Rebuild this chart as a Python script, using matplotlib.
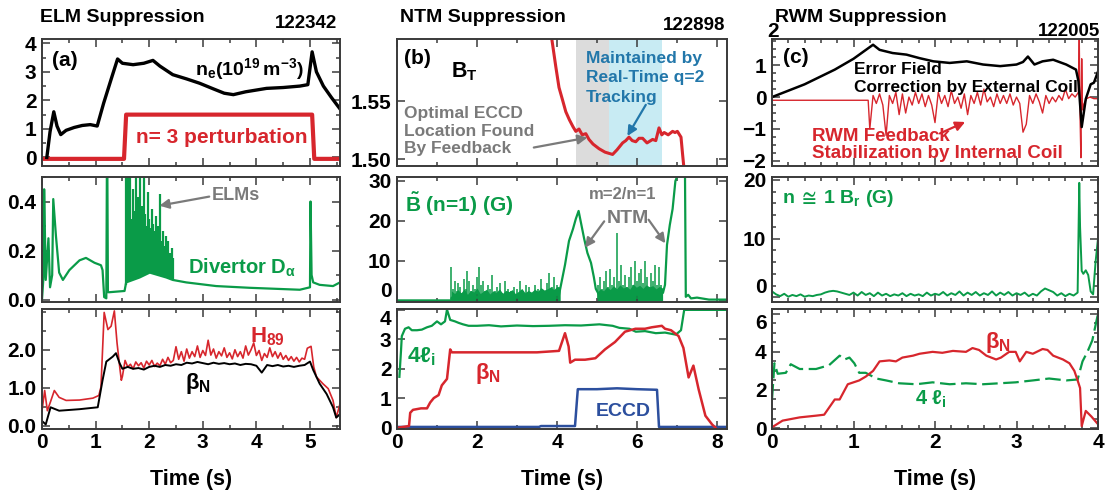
import numpy as np
import matplotlib
matplotlib.use("Agg")
import matplotlib.pyplot as plt
from matplotlib import font_manager as fm
from matplotlib.ticker import MultipleLocator, FixedLocator, FormatStrFormatter
from matplotlib.transforms import blended_transform_factory

# ---------------------------------------------------------------------------
# Data (time in s)
# ---------------------------------------------------------------------------

# (a) ELM suppression, shot 122342
ne_t = [0.09, 0.15, 0.22, 0.28, 0.35, 0.45, 0.6, 0.75, 0.9, 1.03, 1.15, 1.3, 1.41, 1.5, 1.7,
        1.9, 2.07, 2.2, 2.44, 2.7, 2.94, 3.2, 3.4, 3.57, 3.8, 4.19, 4.5, 4.81, 4.96, 5.04,
        5.12, 5.25, 5.4, 5.56]
ne_v = [0.0, 0.9, 1.6, 1.1, 0.8, 0.95, 1.05, 1.12, 1.15, 1.1, 1.9, 2.8, 3.45, 3.3, 3.25,
        3.3, 3.4, 3.2, 2.9, 2.75, 2.6, 2.4, 2.25, 2.2, 2.3, 2.42, 2.45, 2.5, 2.55, 3.7,
        3.0, 2.5, 2.1, 1.7]
n3_t = [0.0, 1.53, 1.57, 5.04, 5.08, 5.56]
n3_v = [-0.05, -0.05, 1.5, 1.5, -0.05, -0.05]

da_t = [0.0, 0.03, 0.04, 0.07, 0.12, 0.15, 0.19, 0.21, 0.26, 0.32, 0.39, 0.51, 0.7, 0.82,
        0.98, 1.10, 1.13, 1.16, 1.20, 1.21, 1.22, 1.23, 1.26, 1.54, 1.57, 1.82, 2.01, 2.32,
        2.44, 2.69, 3.25, 3.87, 4.81, 5.00, 5.01, 5.03, 5.06, 5.18, 5.43, 5.56]
da_v = [0.0, 0.1, 0.45, 0.08, 0.25, 0.05, 0.1, 0.41, 0.26, 0.11, 0.08, 0.12, 0.16, 0.17,
        0.15, 0.14, 0.12, 0.01, 0.005, 0.5, 0.5, 0.03, 0.03, 0.035, 0.07, 0.09, 0.11, 0.09,
        0.08, 0.07, 0.055, 0.048, 0.04, 0.05, 0.4, 0.1, 0.07, 0.06, 0.055, 0.07]
elm_t = [1.56, 1.58, 1.61, 1.63, 1.65, 1.68, 1.70, 1.72, 1.75, 1.77, 1.79, 1.82, 1.84, 1.86,
         1.89, 1.91, 1.93, 1.96, 1.98, 2.00, 2.03, 2.05, 2.07, 2.10, 2.12, 2.14, 2.17, 2.19,
         2.21, 2.24, 2.26, 2.28, 2.31, 2.33, 2.36, 2.39, 2.42, 2.45]
elm_h = [0.50, 0.30, 0.50, 0.38, 0.50, 0.33, 0.45, 0.36, 0.50, 0.31, 0.42, 0.50, 0.34, 0.38,
         0.32, 0.50, 0.35, 0.30, 0.44, 0.33, 0.29, 0.37, 0.31, 0.28, 0.34, 0.27, 0.30, 0.25,
         0.43, 0.24, 0.28, 0.22, 0.26, 0.20, 0.24, 0.19, 0.21, 0.17]

h89_head_t = [0.0, 0.05, 0.10, 0.15, 0.23, 0.32, 0.45, 0.7, 0.95, 1.06, 1.10, 1.16, 1.23,
              1.29, 1.35, 1.40, 1.45, 1.48]
h89_head_v = [0.4, 0.93, 0.4, 0.6, 0.93, 0.75, 0.67, 0.68, 0.73, 0.8, 1.02, 2.98, 2.53,
              2.62, 3.02, 2.18, 1.55, 1.2]
# sampled every 0.05 s from 1.50 s to 4.95 s
h89_flat = [1.30, 1.72, 1.55, 1.62, 1.50, 1.68, 1.58, 1.66, 1.52, 1.70, 1.60, 1.72, 1.56, 1.65,
            1.58, 1.75, 1.62, 1.80, 1.66, 1.72, 2.08, 1.75, 1.95, 1.70, 2.02, 1.78, 1.95, 1.82,
            2.10, 1.80, 1.98, 1.85, 2.25, 1.86, 2.02, 1.78, 1.95, 1.84, 2.05, 1.80, 1.92, 1.76,
            2.00, 1.82, 1.95, 1.78, 2.10, 1.86, 2.00, 2.18, 1.85, 1.98, 1.72, 1.90, 1.80, 2.05,
            1.82, 1.95, 1.78, 1.92, 1.75, 1.85, 1.72, 1.82, 1.70, 1.80, 1.68, 1.78, 1.75, 2.04]
h89_tail_t = [5.02, 5.07, 5.12, 5.24, 5.34, 5.43, 5.49, 5.56]
h89_tail_v = [2.09, 1.55, 1.29, 1.11, 0.98, 0.67, 0.22, 0.58]

bn1_head_t = [0.0, 0.07, 0.16, 0.32, 0.7, 1.04, 1.13, 1.2, 1.32, 1.38, 1.45]
bn1_head_v = [0.13, 0.04, 0.49, 0.4, 0.44, 0.49, 1.2, 1.69, 1.82, 1.91, 1.64]
# sampled every 0.1 s from 1.5 s to 4.9 s
bn1_flat = [1.50, 1.55, 1.50, 1.52, 1.48, 1.55, 1.58, 1.55, 1.60, 1.58, 1.62, 1.60, 1.66,
            1.64, 1.68, 1.65, 1.62, 1.66, 1.63, 1.65, 1.62, 1.64, 1.60, 1.63, 1.62, 1.58,
            1.40, 1.60, 1.57, 1.60, 1.56, 1.58, 1.55, 1.58, 1.60]
bn1_tail_t = [5.0, 5.06, 5.18, 5.31, 5.43, 5.49, 5.56]
bn1_tail_v = [1.69, 1.47, 1.11, 0.84, 0.49, 0.22, 0.31]

# (b) NTM suppression, shot 122898
bt_t = [3.87, 3.97, 4.05, 4.14, 4.22, 4.31, 4.4, 4.47, 4.55, 4.63, 4.72, 4.8, 4.9, 5.05,
        5.2, 5.39, 5.5, 5.64, 5.72, 5.8, 5.88, 5.97, 6.05, 6.14, 6.25, 6.39, 6.47, 6.55,
        6.62, 6.68, 6.78, 6.89, 6.95, 7.01, 7.1, 7.14, 7.18]
bt_v = [1.604, 1.580, 1.562, 1.551, 1.541, 1.534, 1.528, 1.524, 1.526, 1.521, 1.522, 1.517,
        1.513, 1.509, 1.506, 1.504, 1.508, 1.514, 1.516, 1.519, 1.516, 1.515, 1.518, 1.518,
        1.514, 1.517, 1.516, 1.527, 1.521, 1.523, 1.521, 1.524, 1.523, 1.524, 1.519, 1.504,
        1.490]
gray_span = (4.47, 5.29)
cyan_span = (5.29, 6.63)

bmode_t = [0, 1.35, 1.37, 2.5, 4.05, 4.10, 4.20, 4.30, 4.40, 4.47, 4.54, 4.60, 4.68, 4.76,
           4.85, 4.92, 4.97, 5.05, 5.5, 6.0, 6.4, 6.65, 6.70, 6.75, 6.82, 6.89, 6.96, 7.02,
           7.08, 7.14, 7.20, 7.22, 7.28, 7.35, 7.5, 7.8, 8.25]
bmode_v = [0.1, 0.1, 0.8, 1.0, 1.5, 4.0, 9.0, 15.0, 18.0, 20.5, 22.5, 19.5, 15.5, 12.0,
           9.5, 6.0, 3.0, 1.5, 1.5, 1.5, 1.5, 2.0, 4.0, 14.0, 19.0, 23.0, 30.0, 31.5, 31.5,
           31.5, 31.5, 1.0, 1.5, 0.6, 0.8, 0.3, 0.3]
bspk_t = [1.36, 1.40, 1.44, 1.49, 1.53, 1.58, 1.63, 1.67, 1.72, 1.76, 1.80, 1.85, 1.90, 1.95,
          2.00, 2.05, 2.10, 2.16, 2.21, 2.27, 2.33, 2.38, 2.44, 2.50, 2.57, 2.63, 2.70, 2.78,
          2.85, 2.93, 3.00, 3.08, 3.15, 3.22, 3.30, 3.38, 3.45, 3.52, 3.60, 3.67, 3.74, 3.80,
          3.87, 3.93, 4.00, 4.05,
          5.02, 5.07, 5.12, 5.17, 5.22, 5.27, 5.32, 5.37, 5.42, 5.47, 5.51, 5.56, 5.61, 5.66,
          5.71, 5.76, 5.81, 5.86, 5.91, 5.96, 6.01, 6.06, 6.11, 6.16, 6.21, 6.26, 6.31, 6.36,
          6.41, 6.46, 6.51, 6.56, 6.61]
bspk_h = [8.4, 3.0, 5.0, 2.5, 4.5, 3.5, 2.0, 5.5, 3.0, 7.5, 5.0, 2.5, 4.0, 3.0, 6.0, 8.5, 4.0,
          5.0, 2.5, 4.0, 3.0, 6.5, 2.5, 3.5, 4.5, 2.0, 5.0, 3.0, 2.5, 3.5, 3.0, 5.0, 2.5, 4.0,
          3.5, 2.0, 4.0, 3.0, 5.5, 2.5, 4.5, 7.0, 3.5, 6.0, 4.0, 3.5,
          4.0, 6.0, 3.0, 5.0, 7.5, 3.5, 8.0, 4.0, 6.0, 3.0, 17.0, 5.0, 9.0, 4.0, 6.5, 3.5,
          6.0, 8.5, 4.0, 10.0, 5.0, 7.0, 8.0, 4.5, 10.0, 6.0, 3.5, 7.0, 5.0, 9.0, 4.0, 8.5, 4.0]
# noise floor under the spikes, sampled every 0.08 s
bfloor1 = [2.5, 1.8, 2.8, 2.0, 3.0, 1.6, 2.6, 2.2, 3.2, 1.8, 2.4, 2.9, 1.7, 2.5, 2.1, 3.0,
           1.9, 2.6, 2.3, 2.8, 1.8, 2.4, 3.1, 2.0, 2.6, 2.2, 2.9, 2.4, 3.3, 2.7, 3.0, 3.5,
           2.8, 3.6, 3.2]
bfloor2 = [2.0, 3.0, 2.5, 3.5, 2.8, 3.8, 3.0, 4.0, 3.2, 3.6, 2.9, 4.2, 3.4, 3.9, 3.1, 4.0,
           3.5, 3.8, 3.0, 3.6, 3.2]

li2_t = [0.06, 0.10, 0.12, 0.20, 0.29, 0.37, 0.50, 0.62, 0.75, 0.87, 1.00, 1.10, 1.20, 1.25,
         1.33, 1.45, 1.54, 1.65, 1.79, 2.00, 2.30, 2.60, 3.00, 3.40, 3.80, 4.20, 4.60, 5.06,
         5.39, 5.56, 5.81, 5.97, 6.20, 6.47, 6.70, 6.97, 7.10, 7.18, 7.25, 8.25]
li2_v = [1.72, 2.6, 3.1, 3.35, 3.4, 3.3, 3.3, 3.32, 3.4, 3.45, 3.6, 3.5, 3.6, 4.0, 3.65, 3.6,
         3.55, 3.5, 3.45, 3.45, 3.47, 3.43, 3.46, 3.44, 3.45, 3.47, 3.46, 3.5, 3.45, 3.38,
         3.35, 3.25, 3.27, 3.2, 3.22, 3.15, 3.3, 3.99, 3.99, 3.99]
bn2_t = [0.05, 0.30, 0.33, 0.40, 0.60, 0.75, 0.83, 0.92, 1.04, 1.12, 1.25, 1.33, 1.37, 1.60,
         2.00, 2.50, 3.00, 3.50, 4.05, 4.20, 4.29, 4.33, 4.45, 4.70, 4.96, 5.20, 5.45, 5.70,
         5.96, 6.20, 6.37, 6.62, 6.70, 6.85, 7.04, 7.16, 7.29, 7.41, 7.54, 7.71, 7.88, 7.96]
bn2_v = [0.0, 0.05, 0.5, 0.6, 0.65, 0.65, 0.85, 1.0, 1.1, 1.43, 1.65, 2.65, 2.55, 2.55, 2.55,
         2.55, 2.55, 2.55, 2.6, 3.2, 2.75, 2.2, 2.3, 2.3, 2.35, 2.65, 2.9, 3.25, 3.35, 3.35,
         3.4, 3.45, 3.35, 3.3, 3.1, 2.7, 1.7, 2.1, 1.3, 0.4, 0.1, 0.0]
eccd_t = [0.0, 3.55, 3.6, 4.45, 4.52, 5.0, 5.5, 6.0, 6.5, 6.55, 8.25]
eccd_v = [0.02, 0.02, 0.05, 0.05, 1.3, 1.3, 1.33, 1.3, 1.28, 0.02, 0.02]

# (c) RWM suppression, shot 122005
ef_t = [0.0, 0.4, 0.77, 1.0, 1.24, 1.32, 1.48, 1.65, 1.81, 1.98, 2.18, 2.39, 2.59, 2.80,
        3.00, 3.08, 3.14, 3.22, 3.32, 3.45, 3.61, 3.73, 3.76, 3.80, 3.85, 3.91, 3.95, 4.0]
ef_v = [0.0, 0.4, 0.86, 1.2, 1.64, 1.48, 1.38, 1.33, 1.22, 1.12, 1.07, 1.12, 1.02, 0.97,
        1.02, 1.1, 1.27, 1.02, 1.12, 1.17, 1.02, 0.86, 0.5, -0.94, -0.06, 0.4, 0.45, 0.8]
rwm_head_t = [0.0, 1.18]
rwm_head_v = [-0.1, -0.1]
# sampled every 0.04 s from 1.20 s to 3.76 s
rwm_noise = [-1.00, 0.05, -0.20, 0.10, -0.25, -1.20, 0.05, -0.20, 0.15, -0.55, 0.10, -0.50,
             0.00, -0.25, 0.15, -0.20, 0.10, -0.30, 0.05, -0.25, -0.80, 0.15, -0.20, 0.05,
             -0.30, 0.20, -0.20, 0.00, -0.35, 0.10, -0.55, 0.05, -0.20, 0.15, -0.25, 0.25,
             -0.15, 0.00, -0.30, 0.10, -0.20, 0.05, -0.20, 0.10, -0.25, 0.00, -0.20, -1.10,
             -0.85, 0.05, -0.20, 0.10, -0.15, -0.50, 0.05, -0.20, 0.00, -0.15, 0.05, -0.10,
             0.25, -0.05, 0.10, 0.00, 0.15]
rwm_tail_t = [3.77, 3.78, 3.79, 3.80, 3.81, 3.83, 3.86, 3.90, 3.95, 4.0]
rwm_tail_v = [1.82, -0.6, -1.9, 1.2, -0.4, -0.2, -0.05, 0.0, -0.05, -0.05]

# sampled every 0.05 s from 0 to 3.75 s
br_noise = [1.0, 0.5, 0.2, 0.6, 0.1, 0.4, 0.2, 0.5, 0.1, 0.3, 0.2, 0.4, 0.5, 0.8, 1.0, 1.1,
            1.0, 0.8, 0.6, 0.4, 0.8, 0.3, 0.9, 0.4, 0.7, 0.2, 0.8, 0.3, 0.6, 0.2, 0.5, 0.3,
            0.7, 0.2, 0.6, 0.3, 0.5, 0.2, 0.8, 0.3, 0.6, 0.4, 0.9, 0.3, 0.7, 0.4, 1.0, 0.3,
            0.8, 0.4, 0.9, 0.3, 0.7, 0.4, 1.0, 0.3, 0.8, 0.4, 0.9, 0.3, 0.7, 0.4, 0.8, 0.2,
            0.6, 0.3, 1.0, 1.5, 1.2, 0.9, 0.3, 0.7, 0.2, 0.6, 0.3, 0.8]
br_tail_t = [3.77, 3.78, 3.80, 3.82, 3.85, 3.88, 3.91, 3.94, 3.97, 4.0]
br_tail_v = [19.5, 12.0, 4.5, 4.0, 4.6, 3.8, 1.0, 0.5, 6.0, 10.0]

bn3_t = [0.0, 0.13, 0.34, 0.54, 0.64, 0.77, 0.83, 0.93, 1.07, 1.15, 1.24, 1.32, 1.44, 1.52,
         1.60, 1.73, 1.81, 1.97, 2.09, 2.22, 2.38, 2.46, 2.54, 2.63, 2.75, 2.81, 2.91, 2.99,
         3.04, 3.12, 3.20, 3.32, 3.38, 3.45, 3.57, 3.65, 3.71, 3.75, 3.78, 3.80, 3.85, 3.92, 4.0]
bn3_v = [0.04, 0.39, 0.56, 0.65, 0.7, 1.5, 1.5, 2.3, 2.5, 2.7, 3.0, 3.5, 3.55, 3.5, 3.7, 3.8,
         3.9, 4.0, 3.95, 4.05, 4.0, 4.2, 4.1, 3.8, 3.6, 3.7, 4.0, 4.0, 3.5, 4.0, 3.9, 4.15,
         4.1, 3.8, 3.6, 3.4, 3.0, 2.5, 2.1, 0.1, 0.9, 0.6, 0.2]
li3_t = [0.0, 0.03, 0.07, 0.17, 0.23, 0.34, 0.54, 0.70, 0.83, 0.89, 0.95, 1.01, 1.07, 1.15,
         1.28, 1.40, 1.56, 1.77, 1.97, 2.18, 2.38, 2.59, 2.79, 2.99, 3.20, 3.40, 3.61, 3.75,
         3.81, 3.87, 3.93, 4.0]
li3_v = [1.5, 3.4, 2.85, 2.9, 3.35, 3.1, 3.1, 3.3, 3.8, 3.6, 3.7, 3.4, 2.9, 2.9, 2.6, 2.5,
         2.35, 2.3, 2.4, 2.3, 2.35, 2.3, 2.35, 2.4, 2.5, 2.6, 2.5, 2.55, 3.5, 4.0, 4.6, 6.0]

# ---------------------------------------------------------------------------
# Style
# ---------------------------------------------------------------------------

_names = {f.name for f in fm.fontManager.ttflist}
FONT = "Liberation Sans Narrow" if "Liberation Sans Narrow" in _names else "Liberation Sans"

plt.rcParams.update({
    "font.family": [FONT, "DejaVu Sans"],
    "font.weight": "bold",
    "axes.labelweight": "bold",
    "mathtext.default": "regular",
    "mathtext.fallback": "stixsans",
})

RED = "#d7262d"
GREEN = "#0a9b48"
BLUE = "#2c4f9e"
TEAL = "#2277aa"
GREY = "#7a7a7a"
FRAME = "#3a3a3a"

W, H = 1108, 493
COLS = [(42, 340), (397, 727), (772, 1098)]
ROWS = [(39, 166), (177, 302), (309, 429)]
TICK_FS = 15


def _axes(fig, col, row):
    x0, x1 = COLS[col]
    y0, y1 = ROWS[row]
    return fig.add_axes([x0 / W, 1 - y1 / H, (x1 - x0) / W, (y1 - y0) / H])


def _style(ax, xlim, ylim, yticks, ymin=None, xmaj=1, xmin=None, fmt=None, bottom=False):
    ax.set_xlim(xlim)
    ax.set_ylim(ylim)
    ax.yaxis.set_major_locator(FixedLocator(yticks))
    if ymin:
        ax.yaxis.set_minor_locator(MultipleLocator(ymin))
    ax.xaxis.set_major_locator(MultipleLocator(xmaj))
    if xmin:
        ax.xaxis.set_minor_locator(MultipleLocator(xmin))
    if fmt:
        ax.yaxis.set_major_formatter(FormatStrFormatter(fmt))
    ax.tick_params(which="both", direction="in", top=True, right=True,
                   width=1.1, color=FRAME, labelsize=TICK_FS, pad=4)
    ax.tick_params(which="major", length=6)
    ax.tick_params(which="minor", length=3)
    ax.tick_params(axis="x", labelbottom=bottom, pad=3)
    for s in ax.spines.values():
        s.set_linewidth(1.4)
        s.set_color(FRAME)
    if bottom:
        ax.set_xlabel("Time (s)", fontsize=15.5, labelpad=12)


def _nudge(ax, index, va):
    """Shift an edge y tick label off the neighbouring panel's label."""
    ax.yaxis.get_major_ticks()[index].label1.set_va(va)


def _arrow(ax, xy_from, xy_to, color):
    ax.annotate("", xy=xy_to, xytext=xy_from,
                arrowprops=dict(arrowstyle="-|>", color=color, lw=1.6,
                                mutation_scale=14, shrinkA=0, shrinkB=0))


fig = plt.figure(figsize=(W / 100, H / 100), dpi=100)

# ---------------------------------------------------------------------------
# Column (a)
# ---------------------------------------------------------------------------
XA = (0, 5.56)
ax = _axes(fig, 0, 0)
ax.plot(n3_t, n3_v, color=RED, lw=3.0)
ax.plot(ne_t, ne_v, color="black", lw=2.4)
_style(ax, XA, (-0.3, 4.15), [0, 1, 2, 3, 4], ymin=0.5, xmin=0.5)
ax.text(0.19, 3.4, "(a)", fontsize=15, va="center")
ax.text(2.85, 3.1, r"$n_e(10^{19}\,m^{-3})$", fontsize=14, va="center")
ax.text(1.76, 0.7, "n= 3 perturbation", fontsize=15, color=RED, va="center")

ax = _axes(fig, 0, 1)
ax.plot(da_t, da_v, color=GREEN, lw=1.6)
ax.vlines(elm_t, np.interp(elm_t, da_t, da_v), elm_h, color=GREEN, lw=1.6)
_style(ax, XA, (-0.01, 0.5), [0.0, 0.2, 0.4], ymin=0.1, xmin=0.5, fmt="%.1f")
ax.text(3.17, 0.425, "ELMs", fontsize=13, color=GREY, va="center")
_arrow(ax, (3.12, 0.42), (2.19, 0.383), GREY)
ax.text(2.72, 0.13, r"Divertor D$_\alpha$", fontsize=14.5, color=GREEN, va="center")

ax = _axes(fig, 0, 2)
h89_t = np.concatenate([h89_head_t, np.linspace(1.50, 4.95, len(h89_flat)), h89_tail_t])
h89_v = np.concatenate([h89_head_v, h89_flat, h89_tail_v])
bn1_t = np.concatenate([bn1_head_t, np.linspace(1.5, 4.9, len(bn1_flat)), bn1_tail_t])
bn1_v = np.concatenate([bn1_head_v, bn1_flat, bn1_tail_v])
ax.plot(h89_t, h89_v, color=RED, lw=1.2)
ax.plot(bn1_t, bn1_v, color="black", lw=1.4)
_style(ax, XA, (-0.08, 3.07), [0.0, 1.0, 2.0], ymin=0.5, xmin=0.5, fmt="%.1f", bottom=True)
ax.text(3.88, 2.35, r"H$_{89}$", fontsize=16, color=RED, va="center")
ax.text(2.66, 1.12, r"$\beta_N$", fontsize=16, color="black", va="center")

# ---------------------------------------------------------------------------
# Column (b)
# ---------------------------------------------------------------------------
XB = (0, 8.25)
ax = _axes(fig, 1, 0)
ax.axvspan(*gray_span, color="#dcdcdc", lw=0)
ax.axvspan(*cyan_span, color="#c8ebf3", lw=0)
ax.plot(bt_t, bt_v, color=RED, lw=2.2)
_style(ax, XB, (1.494, 1.604), [1.50, 1.55], xmaj=2, xmin=1, fmt="%.2f")
ax.text(0.17, 1.5875, "(b)", fontsize=15, va="center")
ax.text(1.34, 1.5755, r"B$_T$", fontsize=15.5, va="center")
ax.text(0.17, 1.524, "Optimal ECCD\nLocation Found\nBy Feedback", fontsize=12.5,
        color=GREY, va="center", linespacing=1.2)
ax.text(4.72, 1.5703, "Maintained by\nReal-Time q=2\nTracking", fontsize=12.5,
        color=TEAL, va="center", linespacing=1.35)
_arrow(ax, (3.42, 1.51), (4.76, 1.5186), GREY)
_arrow(ax, (6.22, 1.547), (5.76, 1.52), TEAL)

ax = _axes(fig, 1, 1)
ax.fill_between(np.linspace(1.36, 4.08, len(bfloor1)), 0, bfloor1, color=GREEN, lw=0)
ax.fill_between(np.linspace(5.0, 6.64, len(bfloor2)), 0, bfloor2, color=GREEN, lw=0)
ax.plot(bmode_t, bmode_v, color=GREEN, lw=1.6)
ax.vlines(bspk_t, 0.5, bspk_h, color=GREEN, lw=1.1)
_style(ax, XB, (-0.3, 31), [0, 10, 20, 30], xmaj=2, xmin=1)
_nudge(ax, 0, "bottom")
ax.text(0.21, 24.1, r"$\tilde{B}$ (n=1) (G)", fontsize=15, color=GREEN, va="center")
ax.text(5.64, 26.6, "m=2/n=1", fontsize=12, color=GREY, ha="center", va="center")
ax.text(5.76, 20.7, "NTM", fontsize=14, color=GREY, ha="center", va="center")
_arrow(ax, (5.18, 19.9), (4.7, 13.3), GREY)
_arrow(ax, (6.29, 20.3), (6.71, 14.4), GREY)

ax = _axes(fig, 1, 2)
ax.plot(eccd_t, eccd_v, color=BLUE, lw=1.8)
ax.plot(li2_t, li2_v, color=GREEN, lw=1.6)
ax.plot(bn2_t, bn2_v, color=RED, lw=1.8)
_style(ax, XB, (-0.05, 4.02), [0, 1, 2, 3, 4], xmaj=2, xmin=1, bottom=True)
_nudge(ax, -1, "top")
ax.text(0.25, 2.39, r"4$\ell_i$", fontsize=16, color=GREEN, va="center")
ax.text(1.95, 1.83, r"$\beta_N$", fontsize=16, color=RED, va="center")
ax.text(4.97, 0.56, "ECCD", fontsize=14, color=BLUE, va="center")

# ---------------------------------------------------------------------------
# Column (c)
# ---------------------------------------------------------------------------
XC = (0, 4.0)
ax = _axes(fig, 2, 0)
rwm_t = np.concatenate([rwm_head_t, np.linspace(1.20, 3.76, len(rwm_noise)), rwm_tail_t])
rwm_v = np.concatenate([rwm_head_v, rwm_noise, rwm_tail_v])
ax.plot(rwm_t, rwm_v, color=RED, lw=1.0)
ax.plot(ef_t, ef_v, color="black", lw=1.8)
_style(ax, XC, (-2.16, 1.82), [-2, -1, 0, 1], ymin=0.25, xmin=0.2)
ax.text(0.02, 2.05, "2", fontsize=TICK_FS, ha="right", va="center", clip_on=False,
        transform=blended_transform_factory(ax.transAxes, ax.transData))
ax.text(0.14, 1.23, "(c)", fontsize=15, va="center")
ax.text(1.0, 0.86, "Error Field", fontsize=12.5, va="center")
ax.text(1.0, 0.31, "Correction by External Coil", fontsize=12.5, va="center")
ax.text(0.49, -1.23, "RWM Feedback", fontsize=13.5, color=RED, va="center")
ax.text(0.49, -1.76, "Stabilization by Internal Coil", fontsize=13.5, color=RED, va="center")
_arrow(ax, (2.06, -1.14), (2.37, -0.78), RED)

ax = _axes(fig, 2, 1)
br_t = np.concatenate([np.linspace(0.0, 3.75, len(br_noise)), br_tail_t])
br_v = np.concatenate([br_noise, br_tail_v])
ax.plot(br_t, br_v, color=GREEN, lw=1.4)
_style(ax, XC, (-0.8, 20.5), [0, 10, 20], ymin=2, xmin=0.2)
_nudge(ax, 0, "bottom")
ax.text(0.12, 16.9, r"n$\,\cong\,$1 B$_r$ (G)", fontsize=14, color=GREEN, va="center")

ax = _axes(fig, 2, 2)
ax.plot(li3_t, li3_v, color=GREEN, lw=1.6, ls=(0, (7, 2.5)))
ax.plot(bn3_t, bn3_v, color=RED, lw=1.6)
_style(ax, XC, (-0.05, 6.25), [0, 2, 4, 6], ymin=0.5, xmin=0.2, bottom=True)
_nudge(ax, -1, "top")
ax.text(2.61, 4.5, r"$\beta_N$", fontsize=16, color=RED, va="center")
ax.text(1.75, 1.53, r"4 $\ell_i$", fontsize=14.5, color=GREEN, va="center")

# ---------------------------------------------------------------------------
# Column headings and shot numbers
# ---------------------------------------------------------------------------
for x, title in [(40, "ELM Suppression"), (400, "NTM Suppression"), (775, "RWM Suppression")]:
    fig.text(x / W, 1 - 18 / H, title, fontsize=14, va="center", ha="left")
for x, y, shot in [(337, 23, "122342"), (725, 25, "122898"), (1100, 31, "122005")]:
    fig.text(x / W, 1 - y / H, shot, fontsize=13.5, va="center", ha="right")

fig.savefig("out.png", dpi=100)
